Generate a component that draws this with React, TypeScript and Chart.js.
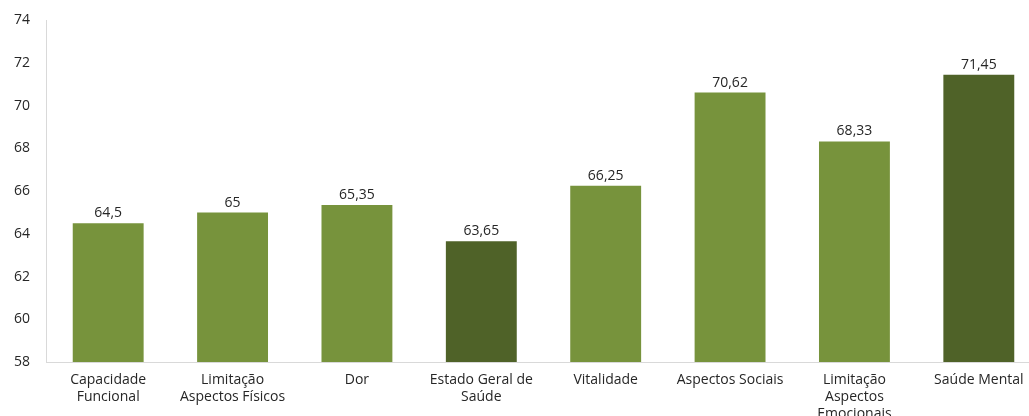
import React, { useEffect, useRef } from "react";
import { Chart, registerables } from "chart.js";

Chart.register(...registerables);

const categories: (string | string[])[] = [
  ["Capacidade", "Funcional"],
  ["Limitação", "Aspectos Físicos"],
  "Dor",
  ["Estado Geral de", "Saúde"],
  "Vitalidade",
  "Aspectos Sociais",
  ["Limitação", "Aspectos", "Emocionais"],
  "Saúde Mental",
];
const values = [64.5, 65, 65.35, 63.65, 66.25, 70.62, 68.33, 71.45];
const valueLabels = ["64,5", "65", "65,35", "63,65", "66,25", "70,62", "68,33", "71,45"];
const highlighted = [false, false, false, true, false, false, false, true];

const LIGHT = "#77933C";
const DARK = "#4F6228";
const FONT = "'Open Sans', sans-serif";

const labelPlugin = {
  id: "valueLabels",
  afterDatasetsDraw(chart: any) {
    const ctx = chart.ctx;
    const meta = chart.getDatasetMeta(0);
    ctx.save();
    ctx.font = `14px ${FONT}`;
    ctx.fillStyle = "#262626";
    ctx.textAlign = "center";
    ctx.textBaseline = "bottom";
    meta.data.forEach((bar: any, i: number) => {
      ctx.fillText(valueLabels[i], bar.x, bar.y - 3);
    });
    ctx.restore();
  },
};

export default function App() {
  const ref = useRef<HTMLCanvasElement>(null);
  useEffect(() => {
    if (!ref.current) return;
    const chart = new Chart(ref.current, {
      type: "bar",
      data: {
        labels: categories,
        datasets: [
          {
            data: values,
            backgroundColor: highlighted.map((h) => (h ? DARK : LIGHT)),
            borderWidth: 0,
            categoryPercentage: 1,
            barPercentage: 0.57,
          },
        ],
      },
      options: {
        responsive: false,
        animation: false,
        layout: { padding: { top: 3, right: 4, left: 0, bottom: 0 } },
        plugins: { legend: { display: false }, tooltip: { enabled: false } },
        scales: {
          x: {
            grid: { display: false, drawTicks: false },
            border: { display: true, color: "#d9d9d9", width: 1 },
            ticks: {
              autoSkip: false,
              maxRotation: 0,
              minRotation: 0,
              padding: 10,
              color: "#262626",
              font: { family: FONT, size: 14, lineHeight: 1.2 },
            },
            afterFit: (scale: any) => {
              scale.height = 54;
            },
          },
          y: {
            min: 58,
            max: 74,
            grid: { display: false, drawTicks: false },
            border: { display: true, color: "#d9d9d9", width: 1 },
            ticks: {
              stepSize: 2,
              padding: 16,
              color: "#262626",
              font: { family: FONT, size: 14 },
            },
            afterFit: (scale: any) => {
              scale.width = 46;
            },
          },
        },
      },
      plugins: [labelPlugin],
    });
    return () => chart.destroy();
  }, []);
  return (
    <div
      style={{
        position: "fixed",
        left: 0,
        top: 0,
        width: 1029,
        height: 416,
        overflow: "hidden",
        background: "#fff",
      }}
    >
      <canvas
        ref={ref}
        width={1045}
        height={420}
        style={{ display: "block", marginTop: -4 }}
      />
    </div>
  );
}
